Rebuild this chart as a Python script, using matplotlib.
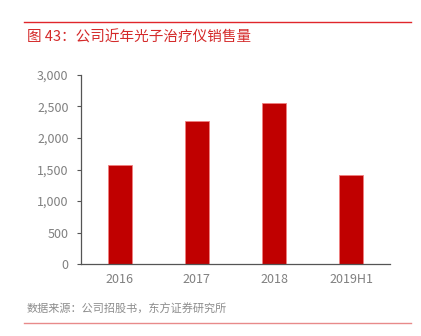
import matplotlib
matplotlib.use('Agg')
import matplotlib.pyplot as plt
from matplotlib.ticker import FuncFormatter

plt.rcParams['font.family'] = ['Noto Sans CJK SC', 'DejaVu Sans']

# 光子治疗仪销量（台）
years = ['2016', '2017', '2018', '2019H1']
sales = [1570, 2260, 2560, 1415]
yticks = [0, 500, 1000, 1500, 2000, 2500, 3000]

title = '图 43：公司近年光子治疗仪销售量'
source = '数据来源：公司招股书，东方证券研究所'

W, H = 421, 336
fig = plt.figure(figsize=(W / 100, H / 100), dpi=100)
ax = fig.add_axes([81 / W, 1 - 264.3 / H, (390 - 81) / W, (264.3 - 74.7) / H])

ax.bar(range(len(years)), sales, width=0.31, color='#c00000',
       edgecolor='#f08080', linewidth=0.6)
ax.set_xlim(-0.5, len(years) - 0.5)
ax.set_ylim(0, 3000)
ax.set_yticks(yticks)
ax.yaxis.set_major_formatter(FuncFormatter(lambda v, p: f'{int(v):,}'))
ax.set_xticks(range(len(years)))
ax.set_xticklabels(years)

for s in ['top', 'right']:
    ax.spines[s].set_visible(False)
for s in ['left', 'bottom']:
    ax.spines[s].set_color('#555555')
    ax.spines[s].set_linewidth(0.9)
ax.tick_params(axis='y', length=3, width=0.8, color='#555555',
               labelsize=9, labelcolor='#808080', pad=6)
ax.tick_params(axis='x', length=0, labelsize=9, labelcolor='#808080', pad=6)

# header and footer
fig.add_artist(plt.Line2D([24 / W, 411 / W], [1 - 22 / H] * 2, color='#e0262b', lw=1.0))
fig.text(27 / W, 1 - 38 / H, title, color='#d42a2a', fontsize=10.5, va='center')
fig.text(27 / W, 1 - 309 / H, source, color='#8c8c8c', fontsize=8, va='center')
fig.add_artist(plt.Line2D([24 / W, 411 / W], [1 - 322.5 / H] * 2, color='#e88a8a', lw=1.0))

fig.savefig('out.png', dpi=100)
